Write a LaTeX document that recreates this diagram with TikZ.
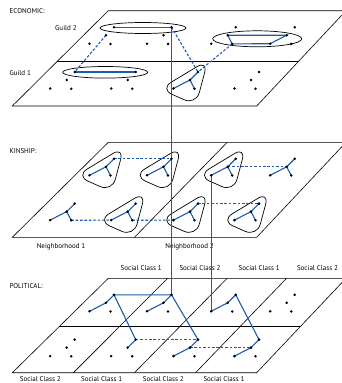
\documentclass[tikz,border=0pt]{standalone}
\usepackage{fontspec}
\setmainfont{PT Sans}
\usetikzlibrary{calc}
\definecolor{linkblue}{RGB}{28,92,172}

\tikzset{
  plane/.style={line width=0.6pt},
  tie/.style={linkblue, line width=1.1pt},
  weak/.style={linkblue, line width=1.1pt, dash pattern=on 2.6pt off 1.8pt},
  ring/.style={line width=0.7pt},
  lbl/.style={font=\fontsize{7}{8}\selectfont, inner sep=0pt},
}

% four actors of one group: top, centre, left, right
\newcommand{\grp}[3]{%
  \path (#2,#3) coordinate (#1-c) +(8,-8) coordinate (#1-t)
    +(-16.5,8.5) coordinate (#1-l) +(4.5,8.7) coordinate (#1-r);}
% rounded triangle round a group
\newcommand{\blob}[1]{%
  \draw[ring, rounded corners=13pt] ($(#1-c)+(18,-20)$) -- ($(#1-c)+(-30,9)$)
    -- ($(#1-c)+(6,25)$) -- cycle;}
% star of ties in a group
\newcommand{\fork}[1]{\draw[tie] (#1-t) -- (#1-c) -- (#1-l) (#1-c) -- (#1-r);}

\begin{document}
\begin{tikzpicture}[x=1pt, y=-1pt]
\useasboundingbox (0,0) rectangle (342,383);

% planes
\draw[plane] (108.3,10.7) -- (346,10.7) -- (256.7,106) -- (12.3,106) -- cycle;
\draw[plane] (56.9,61.7) -- (298.2,61.7);

\draw[plane] (108.3,142.3) -- (346,142.3) -- (256.7,237.3) -- (12.3,237.3) -- cycle;
\draw[plane] (227.2,142.3) -- (134.5,237.3);

\coordinate (pol-tl) at (108.3,278.3);
\coordinate (pol-tr) at (346,278.3);
\coordinate (pol-bl) at (12.3,372.7);
\coordinate (pol-br) at (256.7,372.7);
\draw[plane] (pol-tl) -- (pol-tr) -- (pol-br) -- (pol-bl) -- cycle;
\draw[plane] (59.1,326.7) -- (300.2,326.7);
\foreach \k in {0.25,0.5,0.75}
  \draw[plane] ($(pol-tl)!\k!(pol-tr)$) -- ($(pol-bl)!\k!(pol-br)$);

% groups
\foreach \i/\x in {1/106,2/163.5,3/227.7,4/286.7} {
  \grp{E\i}{\x}{35.2}
  \grp{K\i}{\x}{166.8}
  \grp{P\i}{\x}{302.8}
}
\foreach \i/\x in {5/66.7,6/127.7,7/190,8/251} {
  \grp{E\i}{\x}{80}
  \grp{K\i}{\x}{211.6}
  \grp{P\i}{\x}{347.6}
}

% labels
\node[lbl, anchor=west] (eco) at (9.5,10.7) {ECONOMIC:};
\node[lbl, anchor=west] (guild2) at (55,27.7) {Guild 2};
\node[lbl, anchor=west] (guild1) at (9.3,72.7) {Guild 1};
\node[lbl, anchor=west] (kin) at (9.3,150.7) {KINSHIP:};
\node[lbl] (nb1) at (61,246.7) {Neighborhood 1};
\node[lbl] (nb2) at (189.5,246.7) {Neighborhood 2};
\node[lbl, anchor=west] (pol) at (9.3,286) {POLITICAL:};
\node[lbl] (sc1) at (141.2,267.7) {Social Class 1};
\node[lbl] (sc2) at (200,267.7) {Social Class 2};
\node[lbl] (sc3) at (259.2,267.7) {Social Class 1};
\node[lbl] (sc4) at (317.5,267.7) {Social Class 2};
\node[lbl] (sc5) at (40.3,379.3) {Social Class 2};
\node[lbl] (sc6) at (101.7,379.3) {Social Class 1};
\node[lbl] (sc7) at (163.3,379.3) {Social Class 2};
\node[lbl] (sc8) at (224,379.3) {Social Class 1};

% economic
\draw[ring] (143,28) ellipse [x radius=43pt, y radius=5.5pt];
\draw[ring] (105.2,72.3) ellipse [x radius=42.5pt, y radius=5.8pt];
\draw[ring] (257.2,38.8) ellipse [x radius=44.5pt, y radius=8pt];
\blob{E7}
\draw[tie] (E1-t) -- (E2-t);
\draw[tie] (E5-t) -- (E6-t);
\draw[tie] (E3-c) -- (E4-c) -- (E4-l) -- (E3-r) -- cycle;
\fork{E7}
\draw[weak] (E1-c) -- (E5-t);
\draw[weak] (E2-t) -- (E7-t);
\draw[weak] (E3-r) -- (E7-t);

% kinship
\foreach \g in {K1,K2,K3,K6,K7,K8} {\blob{\g}}
\foreach \g in {K1,K2,K3,K4,K5,K6,K7,K8} {\fork{\g}}
\draw[weak] (K1-t) -- (K2-t);
\draw[weak] (K3-c) -- (K4-c);
\draw[weak] (K5-r) -- (K6-l);
\draw[weak] (K6-r) -- (K7-l);
\draw[weak] (K7-t) -- (K8-t);

% political
\foreach \g in {P1,P2,P3,P7,P8} {\draw[tie] (\g-l) -- (\g-c) -- (\g-t);}
\draw[tie] (P6-c) -- (P6-t);
\draw[tie] (P6-t) -- (P1-t) -- (P2-t) -- (P7-t);
\draw[tie] (P3-t) -- (P8-t);
\draw[weak] (P6-t) -- (P7-t);
\draw[weak] (P7-c) -- (P8-c);

% links between layers
\draw[tie] (E2-t) -- (P2-t);
\draw[tie] (K3-l) -- (P3-l);

% actors
\foreach \g in {E,K,P}
  \foreach \i in {1,...,8}
    \foreach \p in {t,c,l,r}
      \fill (\g\i-\p) circle (1.4pt);
\end{tikzpicture}
\end{document}
